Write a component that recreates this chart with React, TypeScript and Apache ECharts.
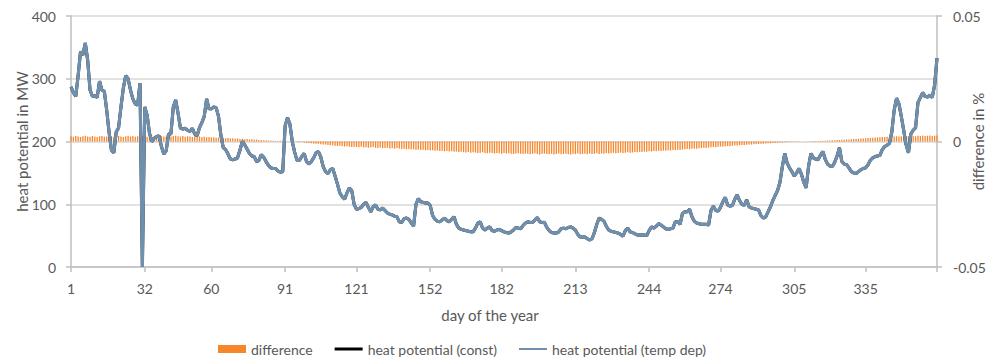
import React, { useEffect, useRef } from "react";
import * as echarts from "echarts";

// Day-of-year positions where the month ticks and labels sit
const MONTH_TICKS = [1, 32, 60, 91, 121, 152, 182, 213, 244, 274, 305, 335];

// Heat potential with temperature-dependent parameters, MW, one value per day (1..365)
const HEAT_TEMP_DEP = [
  287, 278, 272, 305, 343, 338, 357, 330, 282, 272,
  273, 270, 296, 282, 280, 250, 215, 186, 182, 215,
  222, 255, 285, 305, 300, 282, 268, 260, 258, 293,
  0, 255, 242, 213, 200, 205, 208, 209, 192, 180,
  185, 212, 212, 255, 266, 245, 221, 220, 221, 218,
  216, 221, 212, 209, 222, 230, 240, 268, 252, 252,
  255, 254, 240, 210, 190, 187, 180, 172, 171, 172,
  174, 186, 200, 195, 188, 181, 177, 176, 168, 170,
  179, 175, 168, 162, 158, 157, 157, 153, 151, 152,
  225, 238, 228, 200, 183, 170, 170, 176, 181, 168,
  164, 168, 174, 182, 184, 175, 160, 152, 149, 155,
  157, 145, 132, 118, 112, 108, 118, 126, 122, 100,
  92, 93, 95, 100, 103, 95, 88, 96, 99, 92,
  91, 94, 90, 86, 84, 83, 81, 80, 72, 71,
  77, 78, 76, 70, 65, 100, 109, 104, 103, 102,
  102, 98, 82, 76, 73, 72, 75, 78, 74, 72,
  76, 80, 68, 62, 60, 59, 58, 57, 56, 56,
  62, 70, 72, 62, 59, 62, 64, 58, 57, 59,
  60, 58, 56, 55, 54, 56, 59, 63, 62, 61,
  66, 70, 72, 71, 71, 75, 79, 72, 71, 71,
  63, 58, 55, 54, 54, 56, 61, 62, 61, 63,
  64, 62, 59, 52, 48, 48, 48, 45, 43, 45,
  55, 68, 78, 76, 73, 65, 59, 57, 56, 55,
  54, 52, 49, 58, 62, 56, 55, 53, 51, 51,
  51, 51, 50, 58, 64, 62, 65, 69, 67, 64,
  61, 60, 61, 62, 72, 72, 68, 85, 88, 88,
  92, 80, 73, 70, 69, 68, 68, 68, 67, 90,
  97, 90, 89, 95, 104, 111, 99, 97, 98, 108,
  115, 106, 100, 98, 107, 96, 94, 93, 92, 91,
  82, 78, 80, 88, 96, 106, 114, 122, 135, 160,
  181, 166, 158, 152, 145, 150, 157, 148, 135, 126,
  160, 181, 174, 172, 171, 178, 184, 172, 164, 161,
  160, 167, 177, 190, 168, 164, 163, 158, 152, 150,
  149, 152, 155, 157, 158, 163, 170, 174, 176, 177,
  178, 187, 192, 194, 197, 215, 250, 269, 260, 240,
  218, 195, 182, 212, 218, 222, 262, 270, 278, 272,
  271, 274, 270, 290, 333,
];

// Relative difference between both variants, in %, one value per day
const DIFFERENCE = [
  0.0021, 0.0019, 0.0022, 0.002, 0.0018, 0.0021, 0.0023, 0.002, 0.0019, 0.0022,
  0.002, 0.0018, 0.0021, 0.0022, 0.0019, 0.002, 0.0023, 0.0021, 0.0019, 0.002,
  0.0022, 0.002, 0.0018, 0.0021, 0.0023, 0.002, 0.0022, 0.0019, 0.0021, 0.002,
  0.0022, 0.0021, 0.0019, 0.002, 0.0018, 0.0021, 0.002, 0.0019, 0.0022, 0.002,
  0.0019, 0.0021, 0.002, 0.0022, 0.0023, 0.0021, 0.002, 0.0022, 0.0019, 0.0021,
  0.002, 0.0018, 0.0021, 0.0019, 0.002, 0.0018, 0.0019, 0.0017, 0.0018, 0.0016,
  0.0017, 0.0015, 0.0016, 0.0014, 0.0015, 0.0013, 0.0014, 0.0012, 0.0013, 0.0011,
  0.0012, 0.001, 0.0011, 0.0009, 0.001, 0.0008, 0.0009, 0.0007, 0.0008, 0.0006,
  0.0006, 0.0005, 0.0005, 0.0004, 0.0004, 0.0003, 0.0003, 0.0002, 0.0003, 0.0002,
  0.0001, 0.0001, 0.0, -0.0001, -0.0001, -0.0002, -0.0003, -0.0002, -0.0004, -0.0005,
  -0.0006, -0.0007, -0.0008, -0.0009, -0.0009, -0.0011, -0.0012, -0.0012, -0.0014, -0.0015,
  -0.0015, -0.0017, -0.0018, -0.0017, -0.0019, -0.002, -0.0019, -0.0021, -0.0022, -0.0021,
  -0.0022, -0.0023, -0.0021, -0.0024, -0.0023, -0.0025, -0.0024, -0.0022, -0.0025, -0.0026,
  -0.0024, -0.0027, -0.0026, -0.0025, -0.0028, -0.0027, -0.0029, -0.0026, -0.0028, -0.003,
  -0.0029, -0.0031, -0.003, -0.0032, -0.0031, -0.0033, -0.0032, -0.0034, -0.0033, -0.0035,
  -0.0034, -0.0036, -0.0035, -0.0037, -0.0036, -0.0038, -0.0037, -0.0039, -0.0038, -0.004,
  -0.0039, -0.0041, -0.004, -0.0042, -0.0041, -0.0043, -0.0044, -0.0042, -0.0045, -0.0043,
  -0.0044, -0.0046, -0.0045, -0.0043, -0.0046, -0.0047, -0.0045, -0.0046, -0.0048, -0.0046,
  -0.0047, -0.0049, -0.0046, -0.0048, -0.0047, -0.0049, -0.005, -0.0048, -0.0047, -0.0049,
  -0.005, -0.0048, -0.0049, -0.0051, -0.0049, -0.0047, -0.005, -0.0052, -0.0049, -0.0048,
  -0.005, -0.0051, -0.0049, -0.0052, -0.005, -0.0048, -0.0051, -0.005, -0.0049, -0.0051,
  -0.0052, -0.0049, -0.005, -0.0048, -0.0051, -0.005, -0.0049, -0.0051, -0.0048, -0.005,
  -0.0049, -0.0047, -0.005, -0.0048, -0.0049, -0.0046, -0.0048, -0.0047, -0.0045, -0.0047,
  -0.0046, -0.0044, -0.0046, -0.0045, -0.0043, -0.0045, -0.0044, -0.0042, -0.0043, -0.0041,
  -0.0042, -0.004, -0.0041, -0.0039, -0.004, -0.0038, -0.0039, -0.0037, -0.0038, -0.0036,
  -0.0037, -0.0035, -0.0036, -0.0034, -0.0035, -0.0033, -0.0034, -0.0032, -0.0031, -0.003,
  -0.0031, -0.0029, -0.0028, -0.0029, -0.0027, -0.0026, -0.0025, -0.0026, -0.0024, -0.0023,
  -0.0022, -0.0023, -0.0021, -0.002, -0.0021, -0.0019, -0.0018, -0.0019, -0.0017, -0.0016,
  -0.0016, -0.0015, -0.0014, -0.0014, -0.0013, -0.0012, -0.0012, -0.0011, -0.001, -0.001,
  -0.0009, -0.0009, -0.0008, -0.0007, -0.0007, -0.0006, -0.0006, -0.0005, -0.0004, -0.0004,
  -0.0003, -0.0003, -0.0002, -0.0002, -0.0001, -0.0001, -0.0001, 0.0, 0.0, 0.0001,
  0.0001, 0.0001, 0.0002, 0.0002, 0.0002, 0.0003, 0.0003, 0.0003, 0.0004, 0.0004,
  0.0005, 0.0005, 0.0006, 0.0006, 0.0007, 0.0007, 0.0008, 0.0008, 0.0009, 0.001,
  0.001, 0.0011, 0.0012, 0.0012, 0.0013, 0.0014, 0.0014, 0.0015, 0.0016, 0.0016,
  0.0017, 0.0018, 0.0018, 0.0019, 0.0019, 0.002, 0.002, 0.0021, 0.002, 0.0021,
  0.0022, 0.0021, 0.0022, 0.0023, 0.0022, 0.0021, 0.0023, 0.0022, 0.0024, 0.0022,
  0.0023, 0.0024, 0.0022, 0.0023, 0.0024,
];

// Constant-parameter variant follows from the temp-dependent one and the % difference
const HEAT_CONST = HEAT_TEMP_DEP.map((v, i) => v / (1 + DIFFERENCE[i] / 100));

const FONT = "Lato, 'Open Sans', sans-serif";
const TEXT = "#595959";
const AXIS = "#bfbfbf";
const GRID = "#d9d9d9";

export default function App() {
  const ref = useRef<HTMLDivElement>(null);

  useEffect(() => {
    if (!ref.current) return;
    const chart = echarts.init(ref.current, undefined, { renderer: "svg" });
    const day = (i: number) => i + 1;

    chart.setOption({
      animation: false,
      backgroundColor: "#ffffff",
      textStyle: { fontFamily: FONT, color: TEXT },
      grid: { left: 71, right: 52, top: 16, bottom: 91, outerBoundsMode: "none" },
      legend: {
        left: 213,
        top: 337,
        itemGap: 22,
        itemWidth: 28,
        itemHeight: 8,
        symbolKeepAspect: true,
        textStyle: { fontFamily: FONT, fontSize: 14, color: TEXT },
        data: [
          { name: "difference", icon: "rect" },
          { name: "heat potential (const)", icon: "path://M0,0 H28 V3 H0 Z" },
          { name: "heat potential (temp dep)", icon: "path://M0,0 H28 V2 H0 Z" },
        ],
      },
      xAxis: {
        type: "value",
        min: 1,
        max: 365,
        name: "day of the year",
        nameLocation: "middle",
        nameGap: 40,
        nameMoveOverlap: false,
        nameTextStyle: { fontFamily: FONT, fontSize: 15, color: TEXT, padding: [0, 28, 0, 0] },
        axisLine: { show: true, lineStyle: { color: AXIS, width: 1.5 } },
        axisTick: {
          show: true,
          length: 5,
          customValues: [...MONTH_TICKS, 365],
          lineStyle: { color: AXIS, width: 1.5 },
        },
        axisLabel: {
          customValues: MONTH_TICKS,
          margin: 14,
          fontSize: 14,
          color: TEXT,
          fontFamily: FONT,
        },
        splitLine: { show: false },
      },
      yAxis: [
        {
          type: "value",
          min: 0,
          max: 400,
          interval: 100,
          name: "heat potential in MW",
          nameLocation: "middle",
          nameRotate: 90,
          nameGap: 42,
          nameMoveOverlap: false,
          nameTextStyle: { fontFamily: FONT, fontSize: 15, color: TEXT },
          axisLine: { show: true, lineStyle: { color: AXIS, width: 1.5 } },
          axisTick: { show: true, length: 5, lineStyle: { color: AXIS, width: 1.5 } },
          axisLabel: { margin: 15, fontSize: 14, color: TEXT, fontFamily: FONT },
          splitLine: { show: true, lineStyle: { color: GRID, width: 1.5 } },
        },
        {
          type: "value",
          min: -0.05,
          max: 0.05,
          interval: 0.05,
          position: "right",
          name: "difference in %",
          nameLocation: "middle",
          nameRotate: 90,
          nameGap: 33,
          nameMoveOverlap: false,
          nameTextStyle: { fontFamily: FONT, fontSize: 15, color: TEXT },
          axisLine: { show: true, lineStyle: { color: AXIS, width: 1.5 } },
          axisTick: { show: true, length: 5, lineStyle: { color: AXIS, width: 1.5 } },
          axisLabel: {
            margin: 16,
            fontSize: 14,
            color: TEXT,
            fontFamily: FONT,
            formatter: (v: number) => (Math.abs(v) < 1e-9 ? "0" : String(+v.toFixed(2))),
          },
          splitLine: { show: false },
        },
      ],
      series: [
        {
          name: "difference",
          type: "bar",
          yAxisIndex: 1,
          barWidth: 1.3,
          itemStyle: { color: "#f7862a" },
          data: DIFFERENCE.map((v, i) => [day(i), v]),
        },
        {
          name: "heat potential (const)",
          type: "line",
          symbol: "none",
          showSymbol: false,
          itemStyle: { color: "#000000" },
          lineStyle: { color: "#000000", width: 3 },
          data: HEAT_CONST.map((v, i) => [day(i), v]),
        },
        {
          name: "heat potential (temp dep)",
          type: "line",
          symbol: "none",
          showSymbol: false,
          itemStyle: { color: "#6f8fad" },
          lineStyle: { color: "#6f8fad", width: 3.2 },
          data: HEAT_TEMP_DEP.map((v, i) => [day(i), v]),
        },
      ],
    });

    return () => chart.dispose();
  }, []);

  return <div ref={ref} style={{ width: 989, height: 358, position: "absolute", left: 0, top: 0 }} />;
}
